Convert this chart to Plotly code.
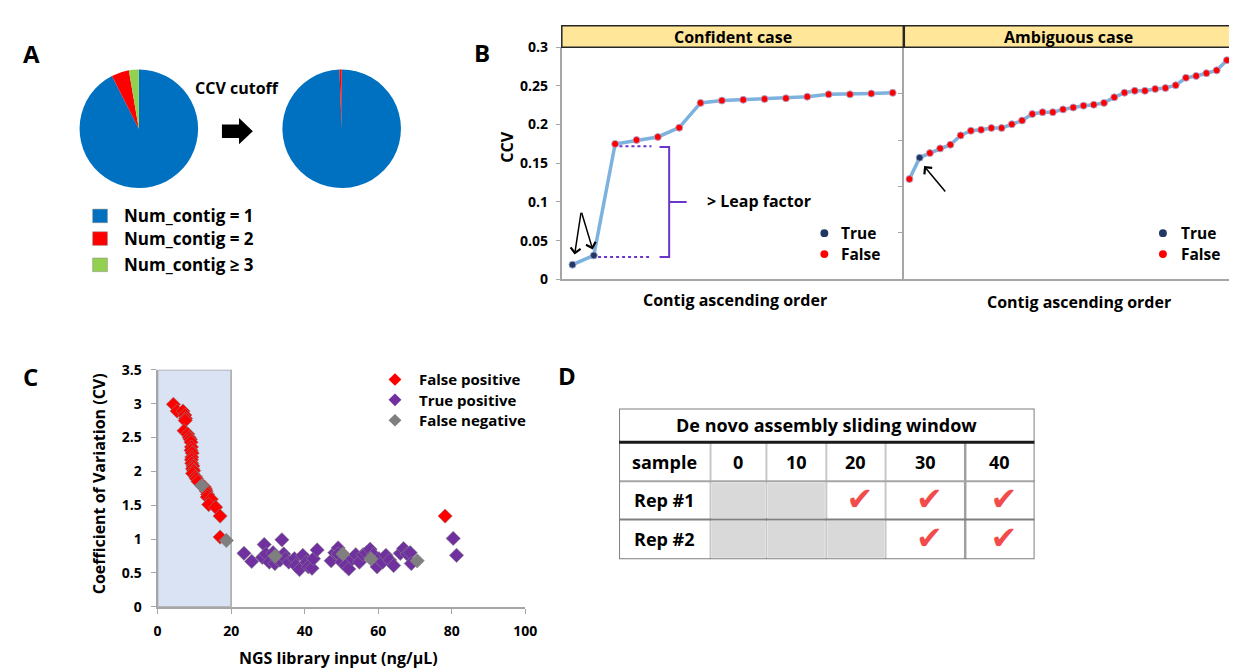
import plotly.graph_objects as go

W, H = 1237, 671
FONT = "Open Sans"


def fx(p):
    return p / W


def fy(p):
    return 1 - p / H


# ---------------- DATA ----------------
# Panel A: pie charts (percent of samples)
pie_labels = ["Num_contig = 1", "Num_contig = 2", "Num_contig \u2265 3"]
pie_before = [92.5, 4.8, 2.7]
pie_after = [99.4, 0.6, 0.0]
pie_colors = ["#0070C0", "#FF0000", "#92D050"]

# Panel B: CCV of contigs in ascending order (True = real contig)
conf_ccv = [0.019, 0.031, 0.175, 0.180, 0.184, 0.196, 0.228, 0.231,
            0.232, 0.233, 0.234, 0.236, 0.239, 0.239, 0.240, 0.241]
conf_true = [1, 1, 0, 0, 0, 0, 0, 0, 0, 0, 0, 0, 0, 0, 0, 0]
amb_ccv = [0.158, 0.181, 0.186, 0.191, 0.195, 0.205, 0.210, 0.211,
           0.213, 0.213, 0.217, 0.221, 0.228, 0.230, 0.230, 0.233,
           0.235, 0.237, 0.238, 0.240, 0.246, 0.251, 0.253, 0.253,
           0.255, 0.256, 0.259, 0.267, 0.269, 0.272, 0.275, 0.286]
amb_true = [0, 1] + [0] * 30

# Panel C: NGS library input vs coefficient of variation
fp_x = [4.3, 5.3, 6.9, 7.4, 7.6, 7.5, 7.2, 8.2, 8.6, 8.9, 9.1, 9.2, 9.1, 9.4,
        9.3, 9.2, 9.3, 9.6, 9.5, 9.8, 9.5, 10.3, 10.6, 11.0, 12.7, 13.0, 13.2,
        13.6, 13.5, 14.6, 13.9, 15.8, 17.0, 17.0, 78.2]
fp_y = [2.99, 2.89, 2.89, 2.83, 2.78, 2.75, 2.60, 2.55, 2.50, 2.47, 2.43, 2.36,
        2.31, 2.27, 2.21, 2.17, 2.12, 2.08, 2.04, 2.01, 1.97, 1.92, 1.89, 1.85,
        1.77, 1.74, 1.71, 1.66, 1.62, 1.59, 1.51, 1.47, 1.34, 1.03, 1.34]
tp_x = [23.5, 25.6, 28.5, 29.0, 29.5, 30.4, 31.4, 31.9, 32.4, 33.3, 33.8, 34.3,
        34.8, 35.7, 37.2, 37.6, 38.6, 39.5, 40.5, 41.0, 42.0, 42.4, 43.4, 47.2,
        48.2, 49.1, 49.1, 50.1, 51.1, 52.0, 53.0, 53.9, 54.9, 55.9, 56.8, 57.8,
        58.7, 59.7, 60.2, 61.2, 62.1, 63.1, 64.2, 66.0, 66.9, 67.9, 68.7, 69.0,
        80.4, 81.3]
tp_y = [0.79, 0.67, 0.73, 0.92, 0.78, 0.66, 0.80, 0.64, 0.71, 0.69, 0.99, 0.78,
        0.71, 0.66, 0.71, 0.61, 0.55, 0.76, 0.66, 0.59, 0.57, 0.71, 0.84, 0.68,
        0.80, 0.87, 0.78, 0.66, 0.61, 0.56, 0.71, 0.77, 0.66, 0.77, 0.80, 0.85,
        0.77, 0.59, 0.71, 0.66, 0.76, 0.69, 0.61, 0.79, 0.86, 0.78, 0.80, 0.64,
        1.01, 0.76]
fn_x = [12.0, 18.7, 32.0, 50.4, 58.0, 70.6]
fn_y = [1.79, 0.98, 0.75, 0.78, 0.71, 0.68]

# Panel D: sliding window table
table_title = "De novo assembly sliding window"
table_cols = ["0", "10", "20", "30", "40"]
table_reps = ["Rep #1", "Rep #2"]
table_pass = [[0, 0, 1, 1, 1],
              [0, 0, 0, 1, 1]]

# ---------------- STYLE ----------------
AX_GRAY = "#A6A6A6"
PURPLE = "#6A35C8"
LINE_BLUE = "#7DB1DE"
NAVY = "#1F3864"


def font(size, color="black"):
    return dict(family=FONT, size=size, color=color, weight="bold")


def txt(x, y, s, size=16, xanchor="center", yanchor="middle", angle=0,
        xref="paper", yref="paper", color="black"):
    if xref == "paper":
        x = fx(x)
    if yref == "paper":
        y = fy(y)
    return dict(x=x, y=y, text=s, showarrow=False, font=font(size, color),
                xanchor=xanchor, yanchor=yanchor, textangle=angle,
                xref=xref, yref=yref)


fig = go.Figure()

# ---- Panel A pies ----
for vals, x0, x1 in [(pie_before, 68, 189), (pie_after, 273, 395)]:
    fig.add_trace(go.Pie(values=vals, labels=pie_labels, sort=False,
                         direction="clockwise", rotation=0,
                         marker=dict(colors=pie_colors, line=dict(width=0)),
                         textinfo="none", hoverinfo="label+percent",
                         showlegend=False,
                         domain=dict(x=[fx(x0), fx(x1)], y=[fy(175), fy(53)])))

# ---- Panel B ----
for ccv, flags, xa, ya in [(conf_ccv, conf_true, "x", "y"),
                           (amb_ccv, amb_true, "x2", "y2")]:
    idx = list(range(len(ccv)))
    fig.add_trace(go.Scatter(x=idx, y=ccv, mode="lines",
                             line=dict(color=LINE_BLUE, width=3.5),
                             xaxis=xa, yaxis=ya, showlegend=False,
                             hoverinfo="skip"))
    for want, col in [(0, "#FF0000"), (1, NAVY)]:
        fig.add_trace(go.Scatter(
            x=[i for i in idx if flags[i] == want],
            y=[ccv[i] for i in idx if flags[i] == want],
            mode="markers",
            marker=dict(symbol="circle", size=7, color=col,
                        line=dict(width=1, color="rgba(170,170,215,0.9)")),
            xaxis=xa, yaxis=ya, showlegend=False))

# ---- Panel C ----
for xs, ys, col in [(fp_x, fp_y, "#FF0000"), (tp_x, tp_y, "#7030A0"),
                    (fn_x, fn_y, "#7F7F7F")]:
    fig.add_trace(go.Scatter(
        x=xs, y=ys, mode="markers",
        marker=dict(symbol="diamond", size=11, color=col,
                    line=dict(width=1, color="rgba(130,130,130,0.6)")),
        xaxis="x3", yaxis="y3", showlegend=False))

# ---- Panel D table (drawn on hidden axes x4/y4) ----
COL_W = [92.7, 56.6, 60.7, 60.0, 80.7, 70.3]
ROW_H = [34.7, 40.0, 39.3, 41.0]
col_edges = [0]
for w in COL_W:
    col_edges.append(col_edges[-1] + w)
row_edges = [0]
for h in ROW_H:
    row_edges.append(row_edges[-1] + h)
col_c = [(col_edges[i] + col_edges[i + 1]) / 2 for i in range(len(COL_W))]
row_c = [(row_edges[i] + row_edges[i + 1]) / 2 for i in range(len(ROW_H))]

shapes = []
annotations = []

# gray cells for windows that failed
for r, row in enumerate(table_pass):
    for c, ok in enumerate(row):
        if not ok:
            shapes.append(dict(type="rect", xref="x4", yref="y4",
                               x0=col_edges[c + 1] + 1.5, x1=col_edges[c + 2] - 1.5,
                               y0=row_edges[r + 2] + 1.5, y1=row_edges[r + 3] - 1.5,
                               fillcolor="#D9D9D9", line=dict(width=0),
                               layer="below"))
# check marks
ck_x, ck_y = [], []
for r, row in enumerate(table_pass):
    for c, ok in enumerate(row):
        if ok:
            ck_x.append(col_c[c + 1] + 4)
            ck_y.append(row_c[r + 2] + 2)
fig.add_trace(go.Scatter(x=ck_x, y=ck_y, mode="text", text=["\u2714"] * len(ck_x),
                         textfont=dict(family="DejaVu Sans", size=32, color="#F24B4B"),
                         xaxis="x4", yaxis="y4", showlegend=False, hoverinfo="skip"))

# table lines
tw, th = col_edges[-1], row_edges[-1]
for ce in col_edges[1:-1]:
    last = ce == col_edges[-2]
    shapes.append(dict(type="line", xref="x4", yref="y4", x0=ce, x1=ce,
                       y0=row_edges[1], y1=th,
                       line=dict(color="#A0A0A0" if last else "#C8C8C8",
                                 width=2.5 if last else 2)))
shapes.append(dict(type="line", xref="x4", yref="y4", x0=0, x1=tw,
                   y0=row_edges[2], y1=row_edges[2], line=dict(color="#A6A6A6", width=2)))
shapes.append(dict(type="line", xref="x4", yref="y4", x0=0, x1=tw,
                   y0=row_edges[3], y1=row_edges[3], line=dict(color="#7F7F7F", width=2)))
shapes.append(dict(type="rect", xref="x4", yref="y4", x0=0, x1=tw, y0=0, y1=th,
                   line=dict(color="#7F7F7F", width=2)))
shapes.append(dict(type="line", xref="x4", yref="y4", x0=0, x1=tw,
                   y0=row_edges[1], y1=row_edges[1], line=dict(color="#1A1A1A", width=3)))

annotations.append(txt(tw / 2, row_c[0], table_title, size=18, xref="x4", yref="y4"))
for c, lab in enumerate(["sample"] + table_cols):
    annotations.append(txt(col_c[c], row_c[1], lab, size=18, xref="x4", yref="y4"))
for r, lab in enumerate(table_reps):
    annotations.append(txt(col_c[0], row_c[r + 2], lab, size=18, xref="x4", yref="y4"))

# ---- Panel A decorations ----
annotations.append(txt(20, 37, "A", size=24))
annotations.append(txt(228, 72, "CCV cutoff", size=16))
shapes.append(dict(type="path", xref="paper", yref="paper",
                   path=(f"M {fx(212.7)} {fy(109.5)} L {fx(230)} {fy(109.5)} "
                         f"L {fx(230)} {fy(103)} L {fx(244)} {fy(116.5)} "
                         f"L {fx(230)} {fy(130)} L {fx(230)} {fy(123.5)} "
                         f"L {fx(212.7)} {fy(123.5)} Z"),
                   fillcolor="black", line=dict(width=0)))
for lab, col, cy in zip(pie_labels, pie_colors, [203.7, 227.0, 254.0]):
    shapes.append(dict(type="rect", xref="paper", yref="paper",
                       x0=fx(81.7), x1=fx(96.7), y0=fy(cy + 7), y1=fy(cy - 7),
                       fillcolor=col, line=dict(width=0.5, color="#888888")))
    annotations.append(txt(111.7, cy, lab, size=17, xanchor="left"))

# ---- Panel B decorations ----
annotations.append(txt(476, 36, "B", size=24))
for x0, x1, lab in [(557, 903, "Confident case"), (904, 1236, "Ambiguous case")]:
    shapes.append(dict(type="rect", xref="paper", yref="paper",
                       x0=fx(x0), x1=fx(x1), y0=fy(30), y1=fy(8),
                       fillcolor="#FFE699", line=dict(color="#262626", width=1.5)))
    annotations.append(txt((x0 + x1) / 2, 20, lab, size=16))
annotations.append(txt(502, 133, "CCV", size=16, angle=-90))
annotations.append(txt(732, 290, "Contig ascending order", size=16))
annotations.append(txt(1081, 292, "Contig ascending order", size=16))
annotations.append(txt(702, 188, "> Leap factor", size=16, xanchor="left"))
for dx, tx in [(823, 838), (1166, 1182)]:
    for cy, lab, col in [(221.5, "True", NAVY), (243, "False", "#FF0000")]:
        shapes.append(dict(type="circle", xref="paper", yref="paper",
                           x0=fx(dx - 4), x1=fx(dx + 4), y0=fy(cy + 4), y1=fy(cy - 4),
                           fillcolor=col, line=dict(width=0)))
        annotations.append(txt(tx, cy, lab, size=15.5, xanchor="left"))
# leap factor guides (data coordinates of the confident panel)
shapes.append(dict(type="line", xref="x", yref="y", x0=2.2, x1=3.7, y0=0.172, y1=0.172,
                   line=dict(color=PURPLE, width=2, dash="dot")))
shapes.append(dict(type="line", xref="x", yref="y", x0=1.2, x1=3.7, y0=0.029, y1=0.029,
                   line=dict(color=PURPLE, width=2, dash="dot")))
shapes.append(dict(type="path", xref="x", yref="y",
                   path="M 4.08 0.171 L 4.53 0.171 L 4.53 0.029 L 4.08 0.029 M 4.53 0.1 L 5.35 0.1",
                   line=dict(color=PURPLE, width=2)))
for hx, hy in [(0.10, 0.032), (0.95, 0.0385)]:
    annotations.append(dict(x=hx, y=hy, ax=0.41, ay=0.088, xref="x", yref="y",
                            axref="x", ayref="y", text="", showarrow=True,
                            arrowhead=4, arrowsize=1.3, arrowwidth=1.5,
                            arrowcolor="black"))
annotations.append(dict(x=1.43, y=0.172, ax=3.62, ay=0.143, xref="x2", yref="y2",
                        axref="x2", ayref="y2", text="", showarrow=True,
                        arrowhead=4, arrowsize=1.3, arrowwidth=1.5,
                        arrowcolor="black"))

# ---- Panel C decorations ----
annotations.append(txt(19, 369, "C", size=24))
annotations.append(txt(562, 368, "D", size=24))
shapes.append(dict(type="rect", xref="x3", yref="y3", x0=0, x1=20, y0=0, y1=3.5,
                   fillcolor="#DAE3F3", line=dict(color=AX_GRAY, width=1.5),
                   layer="below"))
annotations.append(txt(89, 479, "Coefficient of Variation (CV)", size=16, angle=-90))
annotations.append(txt(331, 659, "NGS library input (ng/\u03bcL)", size=16))
for cy, lab, col in [(372, "False positive", "#FF0000"),
                     (393, "True positive", "#7030A0"),
                     (414, "False negative", "#7F7F7F")]:
    cx = 388
    shapes.append(dict(type="path", xref="paper", yref="paper",
                       path=(f"M {fx(cx)} {fy(cy - 6.5)} L {fx(cx + 6.5)} {fy(cy)} "
                             f"L {fx(cx)} {fy(cy + 6.5)} L {fx(cx - 6.5)} {fy(cy)} Z"),
                       fillcolor=col, line=dict(width=0)))
    annotations.append(txt(410, cy, lab, size=15, xanchor="left"))

tickf = font(14)
common_hidden = dict(showgrid=False, zeroline=False)
fig.update_layout(
    width=W, height=H, autosize=False,
    margin=dict(l=0, r=0, t=0, b=0),
    paper_bgcolor="white", plot_bgcolor="rgba(0,0,0,0)",
    font=dict(family=FONT, color="black"),
    showlegend=False,
    xaxis=dict(domain=[fx(557), fx(903)], range=[-0.5, 15.5], anchor="y",
               showticklabels=False, ticks="", showline=True, linecolor=AX_GRAY,
               linewidth=2, **common_hidden),
    yaxis=dict(domain=[fy(269), fy(30)], range=[0, 0.3], tick0=0, dtick=0.05,
               anchor="x", ticks="outside", ticklen=4, tickcolor=AX_GRAY,
               showline=True, linecolor=AX_GRAY, linewidth=2, tickfont=tickf,
               ticklabelstandoff=5, **common_hidden),
    xaxis2=dict(domain=[fx(904), fx(1236)], range=[-0.5, 31.5], anchor="y2",
                showticklabels=False, ticks="", showline=True, linecolor=AX_GRAY,
                linewidth=2, **common_hidden),
    yaxis2=dict(domain=[fy(269), fy(30)], range=[0.05, 0.3], tick0=0.05, dtick=0.05,
                anchor="x2", ticks="outside", ticklen=4, tickcolor=AX_GRAY,
                showticklabels=False, showline=True, mirror=True,
                linecolor=AX_GRAY, linewidth=2, **common_hidden),
    xaxis3=dict(domain=[fx(147.5), fx(520)], range=[0, 100], dtick=20, anchor="y3",
                ticks="outside", ticklen=5, tickcolor=AX_GRAY, showline=True,
                linecolor=AX_GRAY, linewidth=2, tickfont=tickf,
                ticklabelstandoff=5, **common_hidden),
    yaxis3=dict(domain=[fy(606), fy(362)], range=[0, 3.5], dtick=0.5, anchor="x3",
                ticks="outside", ticklen=5, tickcolor=AX_GRAY, showline=True,
                linecolor=AX_GRAY, linewidth=2, tickfont=tickf,
                ticklabelstandoff=6, **common_hidden),
    xaxis4=dict(domain=[fx(615), fx(1036)], range=[0, tw], anchor="y4",
                visible=False, **common_hidden),
    yaxis4=dict(domain=[fy(557), fy(402)], range=[th, 0], anchor="x4",
                visible=False, **common_hidden),
    shapes=shapes,
    annotations=annotations,
)

fig.write_html("out.html")
